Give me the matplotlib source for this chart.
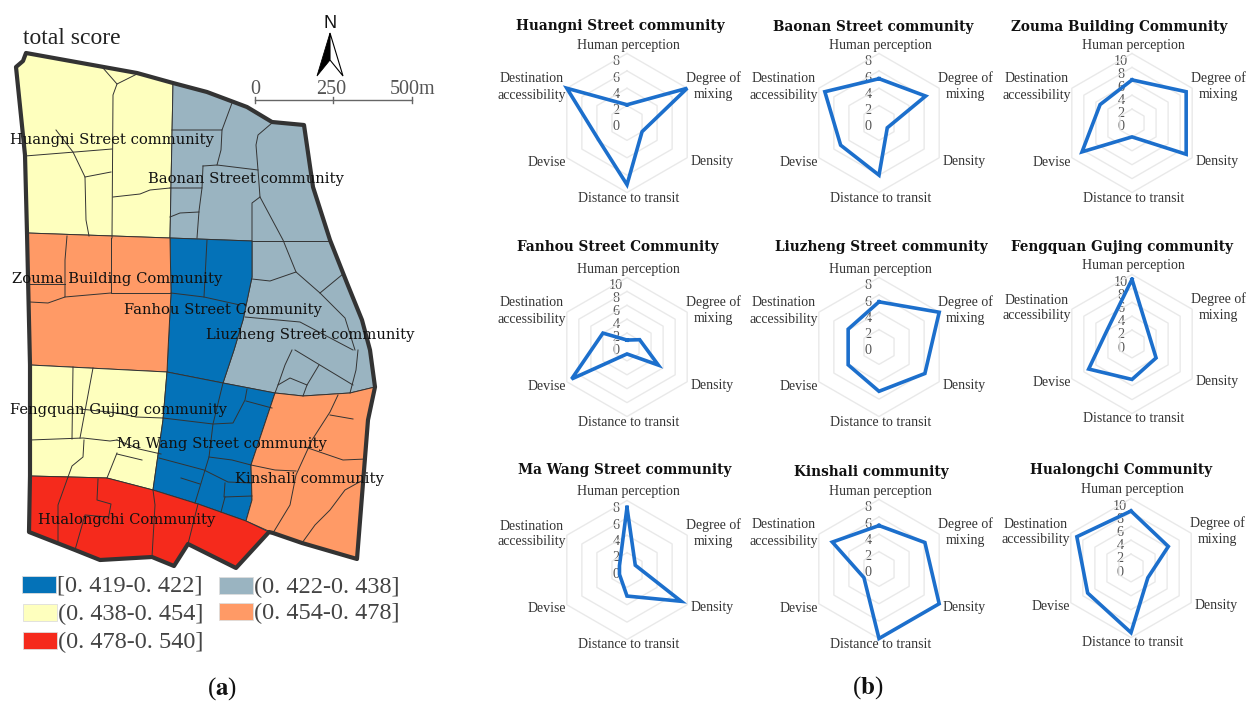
import matplotlib
matplotlib.use('Agg')
import matplotlib.pyplot as plt
from matplotlib.patches import Polygon, Rectangle
import numpy as np

W, H = 1252, 702
plt.rcParams['mathtext.fontset'] = 'stix'

SERIF = 'Liberation Serif'
WIDE = 'DejaVu Serif'

# radar data
axes_labels = ['Human perception', 'Degree of\nmixing', 'Density',
               'Distance to transit', 'Devise', 'Destination\naccessibility']
communities = ['Huangni Street community', 'Baonan Street community', 'Zouma Building Community',
               'Fanhou Street Community', 'Liuzheng Street community', 'Fengquan Gujing community',
               'Ma Wang Street community', 'Kinshali community', 'Hualongchi Community']
huangni = [2.1, 8.0, 2.0, 7.1, 3.8, 8.0]
baonan = [5.1, 6.2, 1.1, 6.0, 5.1, 7.2]
zouma = [6.2, 9.0, 9.0, 2.0, 8.3, 5.3]
fanhou = [1.0, 2.1, 5.2, 1.0, 9.2, 4.0]
liuzheng = [5.2, 8.0, 6.1, 5.1, 4.1, 4.1]
fengquan = [9.3, 2.8, 4.0, 5.1, 7.2, 4.1]
mawang = [7.2, 1.1, 7.2, 3.0, 1.0, 1.0]
kinshali = [5.0, 6.1, 8.0, 8.0, 2.0, 6.2]
hualongchi = [8.2, 6.2, 2.8, 9.3, 7.2, 9.0]
series = [huangni, baonan, zouma, fanhou, liuzheng, fengquan, mawang, kinshali, hualongchi]
axis_max = [8, 8, 10, 10, 8, 10, 8, 8, 10]

# map legend
legend_labels = ['[0. 419-0. 422]', '(0. 422-0. 438]', '(0. 438-0. 454]', '(0. 454-0. 478]', '(0. 478-0. 540]']
scale_labels = ['0', '250', '500m']

# map geometry, traced in image pixels
outline = [(26, 53), (23, 61), (16, 67), (25, 155), (27, 233), (30, 365), (30, 476), (29, 532), (75, 550),
           (100, 560), (152, 557), (174, 566), (188, 544), (236, 568), (269, 532), (273, 533), (302, 543),
           (357, 559), (368, 420), (375, 387), (370, 350), (362, 320), (347, 283), (330, 240), (313, 187),
           (304, 125), (272, 122), (247, 107), (207, 92), (173, 83), (137, 73)]
huangni_area = [(26, 53), (137, 73), (173, 83), (170, 238), (27, 233), (25, 155), (16, 67), (23, 61)]
grey_area = [(173, 83), (207, 92), (247, 107), (272, 122), (304, 125), (313, 187), (330, 240), (347, 283),
             (362, 320), (370, 350), (375, 387), (350, 393), (303, 396), (275, 393), (223, 383), (234, 350),
             (243, 320), (252, 277), (252, 241), (170, 238)]
fanhou_area = [(170, 238), (252, 241), (252, 277), (243, 320), (234, 350), (223, 383), (167, 372), (168, 350),
               (171, 293)]
zouma_area = [(27, 233), (170, 238), (171, 293), (168, 350), (167, 372), (30, 365)]
fengquan_area = [(30, 365), (167, 372), (163, 420), (153, 490), (107, 478), (70, 477), (30, 476)]
mawang_area = [(167, 372), (223, 383), (275, 393), (251, 465), (252, 500), (246, 521), (198, 504), (153, 490),
               (163, 420)]
kinshali_area = [(275, 393), (303, 396), (350, 393), (375, 387), (368, 420), (357, 559), (302, 543), (273, 533),
                 (246, 521), (252, 500), (251, 465)]
hualong_area = [(30, 476), (70, 477), (107, 478), (153, 490), (198, 504), (246, 521), (269, 532), (236, 568),
                (188, 544), (174, 566), (152, 557), (100, 560), (75, 550), (29, 532)]
areas = [(huangni_area, '#feffbe'), (grey_area, '#9ab4c1'), (fanhou_area, '#0472b8'), (zouma_area, '#ff9a66'),
         (fengquan_area, '#feffbe'), (mawang_area, '#0472b8'), (kinshali_area, '#ff9a66'), (hualong_area, '#f52a1c')]

streets = [
    [(103, 68), (117, 84), (137, 74)],
    [(117, 84), (113, 95), (112, 238)],
    [(25, 156), (75, 152), (112, 149)],
    [(56, 130), (73, 152), (85, 177), (86, 220), (89, 236)],
    [(85, 177), (111, 172)],
    [(113, 197), (140, 194), (150, 190), (170, 188)],
    [(172, 130), (222, 130), (232, 103)],
    [(222, 130), (221, 150), (217, 165)],
    [(203, 166), (217, 165), (258, 170)],
    [(203, 166), (202, 188), (170, 188)],
    [(202, 188), (199, 211), (197, 238)],
    [(170, 217), (180, 213), (199, 212)],
    [(272, 123), (258, 135), (256, 145), (258, 170), (260, 197), (252, 203), (252, 241)],
    [(260, 197), (283, 240), (296, 272), (320, 293), (345, 318), (355, 350)],
    [(252, 241), (330, 241)],
    [(252, 279), (270, 281), (296, 272)],
    [(320, 293), (343, 274)],
    [(245, 317), (300, 322), (353, 350)],
    [(295, 350), (353, 385)],
    [(319, 365), (307, 385), (303, 396)],
    [(292, 350), (285, 365), (278, 385), (275, 393)],
    [(278, 385), (290, 378), (307, 385)],
    [(358, 350), (356, 370), (350, 393)],
    [(67, 236), (65, 260), (65, 297), (48, 303), (30, 302)],
    [(65, 297), (111, 293)],
    [(111, 238), (111, 293), (171, 293)],
    [(30, 284), (65, 284)],
    [(207, 240), (204, 297)],
    [(171, 293), (204, 297), (240, 305)],
    [(73, 367), (72, 439)],
    [(93, 368), (80, 438)],
    [(30, 440), (83, 438), (110, 441), (117, 440)],
    [(117, 440), (139, 449), (161, 454)],
    [(84, 440), (83, 457), (72, 466), (68, 477)],
    [(117, 453), (107, 478)],
    [(117, 454), (142, 460)],
    [(80, 409), (118, 413), (136, 417), (163, 418)],
    [(163, 418), (213, 424), (233, 423), (245, 400), (247, 389)],
    [(246, 401), (272, 408)],
    [(223, 383), (213, 424), (209, 457), (195, 503)],
    [(209, 457), (232, 460), (251, 465)],
    [(159, 458), (204, 470), (228, 482), (252, 483)],
    [(181, 478), (200, 484)],
    [(225, 483), (224, 497), (252, 496)],
    [(225, 497), (221, 512)],
    [(338, 395), (330, 412), (312, 440), (296, 475), (290, 505), (273, 533)],
    [(330, 415), (353, 419)],
    [(305, 447), (343, 460), (366, 459)],
    [(251, 465), (275, 470), (296, 471)],
    [(363, 480), (345, 490), (330, 510), (315, 525), (302, 543)],
    [(98, 479), (97, 500), (111, 504), (108, 520)],
    [(68, 477), (58, 505), (58, 541)],
    [(75, 550), (85, 515), (108, 517)],
    [(153, 490), (155, 505), (152, 557)],
    [(198, 504), (188, 544)],
    [(188, 543), (207, 553)],
]

map_labels = [(112, 140), (246, 179), (117, 279), (223, 310), (310, 335), (118, 410), (222, 444), (309, 479), (127, 520)]


fig = plt.figure(figsize=(W / 100, H / 100), dpi=100, facecolor='white')

# full-figure axes in pixel coordinates for panel (a)
bg = fig.add_axes([0, 0, 1, 1])
bg.set_xlim(0, W)
bg.set_ylim(H, 0)
bg.axis('off')

for pts, color in areas:
    bg.add_patch(Polygon(pts, closed=True, facecolor=color, edgecolor='#333333', linewidth=0.7))
for st in streets:
    xs, ys = zip(*st)
    bg.plot(xs, ys, color='#333333', linewidth=0.7)
bg.add_patch(Polygon(outline, closed=True, fill=False, edgecolor='#333333', linewidth=3, joinstyle='round'))

for name, (x, y) in zip(communities, map_labels):
    bg.text(x, y, name, family=WIDE, fontsize=10.6, color='#111111', ha='center', va='center')

bg.text(23, 38, 'total score', family=SERIF, fontsize=17, color='#222222', va='center')
bg.text(330, 24, 'N', family='Liberation Sans', fontsize=13, color='#111111', ha='center', va='center')
bg.add_patch(Polygon([(330, 33), (317, 76), (330, 60)], closed=True, facecolor='black', edgecolor='black', linewidth=0.6))
bg.add_patch(Polygon([(330, 33), (343, 76), (330, 60)], closed=True, facecolor='white', edgecolor='black', linewidth=0.8))

# scale bar
bar_x = [254.5, 333, 412]
bg.plot([bar_x[0], bar_x[-1]], [99.5, 99.5], color='#666666', linewidth=1)
for x in bar_x:
    bg.plot([x, x], [96.5, 102.5], color='#666666', linewidth=1)
bg.text(255, 89, scale_labels[0], family=SERIF, fontsize=14.5, color='#555555', ha='center', va='center')
bg.text(331, 89, scale_labels[1], family=SERIF, fontsize=14.5, color='#555555', ha='center', va='center')
bg.text(390, 89, scale_labels[2], family=SERIF, fontsize=14.5, color='#555555', ha='left', va='center')

# legend
swatches = [(22, 576, '#0472b8'), (219, 577, '#9ab4c1'), (23, 604, '#feffbe'), (219, 603, '#ff9a66'), (23, 632, '#f52a1c')]
for (x, y, color), label in zip(swatches, legend_labels):
    bg.add_patch(Rectangle((x, y), 34, 17, facecolor=color, edgecolor='#dddddd', linewidth=0.6))
    bg.text(x + 35, y + 10, label, family=SERIF, fontsize=17.5, color='#444444', va='center')

bg.text(222, 689, r'($\mathbf{a}$)', family=SERIF, fontsize=18, color='#111111', ha='center', va='center')
bg.text(868, 688, r'($\mathbf{b}$)', family=SERIF, fontsize=18, color='#111111', ha='center', va='center')

# panel (b)
centers = [(627, 123), (879, 123), (1132, 123),
           (627, 347), (879, 347), (1132, 344),
           (627, 570), (879, 569), (1131, 568)]
title_pos = [(620, 26), (873, 27), (1119, 27), (618, 247), (881, 247), (1122, 247), (625, 470), (871, 472), (1121, 470)]
label_off = [(1, -78), (86, -37), (85, 38), (2, 75), (-80, 39), (-95, -36)]
R = 69.5
theta = np.arange(6) * np.pi / 3

for i, (cx, cy) in enumerate(centers):
    ax = fig.add_axes([(cx - R) / W, 1 - (cy + R) / H, 2 * R / W, 2 * R / H], projection='polar')
    ax.set_theta_zero_location('N')
    ax.set_theta_direction(-1)
    ax.set_ylim(0, axis_max[i])
    ax.axis('off')
    ax.patch.set_alpha(0)
    closed = np.append(theta, theta[0])
    ticks = np.arange(2, axis_max[i] + 1, 2)
    for r in ticks:
        ax.plot(closed, [r] * 7, color='#e9e9e9', linewidth=1, clip_on=False)
    ax.plot(closed, series[i] + series[i][:1], color='#1c6fcc', linewidth=2.6, clip_on=False,
            solid_joinstyle='miter')

    bg.text(title_pos[i][0], title_pos[i][1], communities[i], family=WIDE, fontweight='bold', fontsize=9.8,
            color='#111111', ha='center', va='center')
    for name, (dx, dy) in zip(axes_labels, label_off):
        bg.text(cx + dx, cy + dy, name, family=SERIF, fontsize=10, color='#333333', ha='center', va='center',
                linespacing=1.3)
    for v in np.append(0, ticks):
        bg.text(cx - 11, cy + 4 - 65.3 * v / axis_max[i], str(v), family=SERIF, fontsize=10.2, color='#555555',
                ha='center', va='center')

fig.savefig('out.png', dpi=100)
